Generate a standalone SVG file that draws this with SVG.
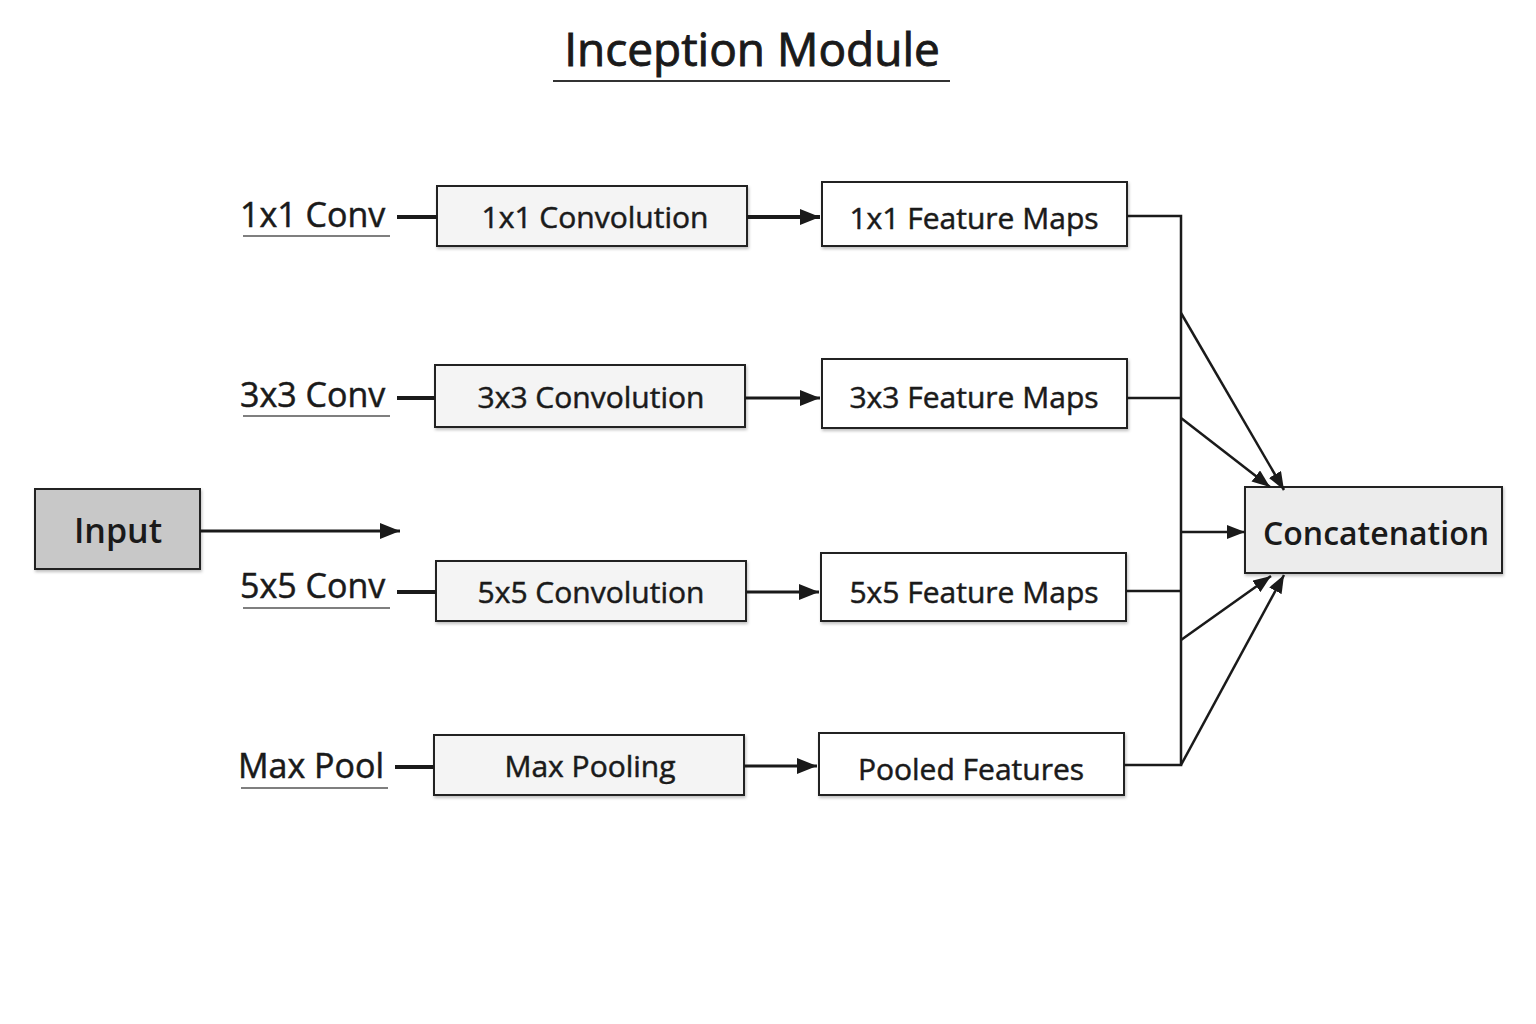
<svg xmlns="http://www.w3.org/2000/svg" width="1536" height="1024" viewBox="0 0 1536 1024">
<defs>
<filter id="sh" x="-10%" y="-10%" width="120%" height="130%">
<feDropShadow dx="1" dy="2" stdDeviation="1.5" flood-color="#000" flood-opacity="0.25"/>
</filter>
<marker id="arr" viewBox="0 0 20 16" refX="20" refY="8" markerWidth="20" markerHeight="16" markerUnits="userSpaceOnUse" orient="auto">
<path d="M0,0 L20,8 L0,16 Z" fill="#1a1a1a"/>
</marker>
<marker id="arr2" viewBox="0 0 18 14" refX="18" refY="7" markerWidth="18" markerHeight="14" markerUnits="userSpaceOnUse" orient="auto">
<path d="M0,0 L18,7 L0,14 Z" fill="#1a1a1a"/>
</marker>
</defs>
<style>
text{font-family:"Open Sans","Noto Sans","DejaVu Sans",sans-serif;fill:#1a1a1a;stroke:#1a1a1a;stroke-width:0.5}
.box{stroke:#222;stroke-width:2;filter:url(#sh)}
.lite{fill:#f4f4f4}
.white{fill:#fff}
.bt{font-size:30px;text-anchor:middle}
.lbl{font-size:34px}
.ul{stroke:#555;stroke-width:1.5}
.thick{stroke:#1a1a1a;stroke-width:4;fill:none}
.mid{stroke:#1a1a1a;stroke-width:3;fill:none}
.thin{stroke:#1a1a1a;stroke-width:2.5;fill:none}
</style>
<rect width="1536" height="1024" fill="#fff"/>
<g id="title">
<text x="752" y="66" font-size="46" text-anchor="middle" style="stroke-width:0.9">Inception Module</text>
<line x1="553" y1="81" x2="950" y2="81" stroke="#333" stroke-width="2"/>
</g>
<g id="labels">
<text class="lbl" x="240" y="227">1x1 Conv</text>
<line class="ul" x1="243" y1="236" x2="390" y2="236"/>
<text class="lbl" x="240" y="407">3x3 Conv</text>
<line class="ul" x1="243" y1="416" x2="390" y2="416"/>
<text class="lbl" x="240" y="598">5x5 Conv</text>
<line class="ul" x1="243" y1="608" x2="390" y2="608"/>
<text class="lbl" x="238" y="778">Max Pool</text>
<line class="ul" x1="241" y1="788" x2="388" y2="788"/>
</g>
<g id="input">
<rect class="box" x="35" y="489" width="165" height="80" fill="#c8c8c8"/>
<text x="118" y="543" font-size="34" font-weight="600" text-anchor="middle" style="stroke-width:0">Input</text>
</g>
<g id="conv1x1"><rect class="box lite" x="437" y="186" width="310" height="60"/><text class="bt" x="595" y="228">1x1 Convolution</text></g>
<g id="conv3x3"><rect class="box lite" x="435" y="365" width="310" height="62"/><text class="bt" x="591" y="408">3x3 Convolution</text></g>
<g id="conv5x5"><rect class="box lite" x="436" y="561" width="310" height="60"/><text class="bt" x="591" y="603">5x5 Convolution</text></g>
<g id="maxpool"><rect class="box lite" x="434" y="735" width="310" height="60"/><text class="bt" x="590" y="777">Max Pooling</text></g>
<g id="fm1x1"><rect class="box white" x="822" y="182" width="305" height="64"/><text class="bt" x="974" y="229">1x1 Feature Maps</text></g>
<g id="fm3x3"><rect class="box white" x="822" y="359" width="305" height="69"/><text class="bt" x="974" y="408">3x3 Feature Maps</text></g>
<g id="fm5x5"><rect class="box white" x="821" y="553" width="305" height="68"/><text class="bt" x="974" y="603">5x5 Feature Maps</text></g>
<g id="pooled"><rect class="box white" x="819" y="733" width="305" height="62"/><text class="bt" x="971" y="780">Pooled Features</text></g>
<g id="concat">
<rect class="box" x="1245" y="487" width="257" height="86" fill="#ececec"/>
<text x="1376" y="545" font-size="32" font-weight="600" text-anchor="middle" style="stroke-width:0">Concatenation</text>
</g>
<g id="connectors">
<line class="thick" x1="397" y1="217" x2="437" y2="217"/>
<line class="thick" x1="397" y1="398" x2="435" y2="398"/>
<line class="thick" x1="397" y1="592" x2="436" y2="592"/>
<line class="thick" x1="395" y1="767" x2="434" y2="767"/>
<line class="mid" x1="200" y1="531" x2="400" y2="531" marker-end="url(#arr)"/>
<line class="thick" x1="747" y1="217" x2="820" y2="217" marker-end="url(#arr)"/>
<line class="mid" x1="745" y1="398" x2="820" y2="398" marker-end="url(#arr)"/>
<line class="mid" x1="746" y1="592" x2="819" y2="592" marker-end="url(#arr)"/>
<line class="mid" x1="744" y1="766" x2="817" y2="766" marker-end="url(#arr)"/>
<polyline class="thin" points="1127,216 1181,216 1181,765 1124,765"/>
<line class="thin" x1="1127" y1="398" x2="1181" y2="398"/>
<line class="thin" x1="1126" y1="591" x2="1181" y2="591"/>
<line class="thin" x1="1181" y1="313" x2="1284" y2="490" marker-end="url(#arr2)"/>
<line class="thin" x1="1181" y1="418" x2="1270" y2="487" marker-end="url(#arr2)"/>
<line class="thin" x1="1181" y1="532" x2="1245" y2="532" marker-end="url(#arr2)"/>
<line class="thin" x1="1181" y1="640" x2="1271" y2="576" marker-end="url(#arr2)"/>
<line class="thin" x1="1181" y1="765" x2="1284" y2="575" marker-end="url(#arr2)"/>
</g>
</svg>
